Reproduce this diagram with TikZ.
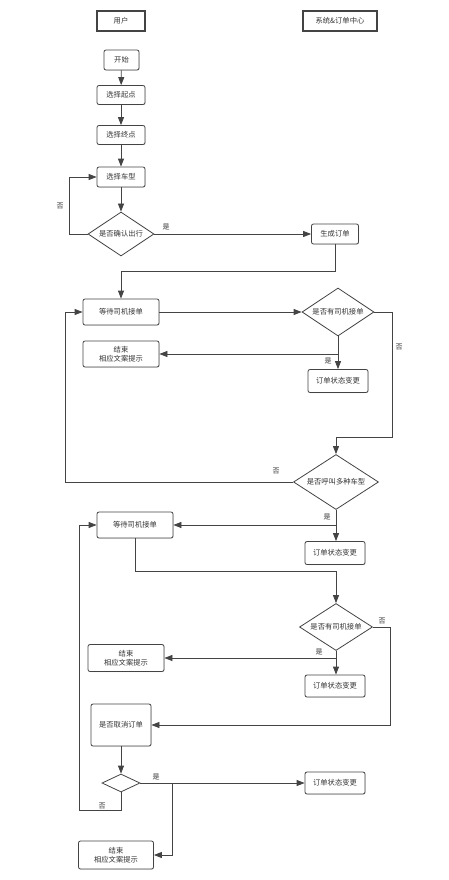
\documentclass[tikz,border=0pt]{standalone}
\usepackage{fontspec}
\newfontfamily\cjk{Noto Sans CJK SC}
\usetikzlibrary{arrows.meta,shapes.geometric,shadows}
\definecolor{ln}{HTML}{444444}
\definecolor{tx}{HTML}{333333}
\newcommand{\zb}[1]{\makebox[0pt]{#1}}
\begin{document}
\begin{tikzpicture}[x=1pt,y=-1pt,
  every node/.style={font=\cjk\fontsize{7.3}{9}\selectfont,text=tx,inner sep=0pt},
  lane/.style={draw=ln,line width=1.1pt,fill=white,minimum height=20pt,drop shadow={shadow xshift=0.6pt,shadow yshift=-0.6pt,opacity=0.25}},
  proc/.style={draw=ln,line width=0.8pt,rounded corners=2pt,fill=white,align=center,drop shadow={shadow xshift=0.6pt,shadow yshift=-0.6pt,opacity=0.25}},
  dec/.style={draw=ln,line width=0.8pt,diamond,fill=white},
  lbl/.style={font=\cjk\fontsize{7}{8}\selectfont},
  arr/.style={draw=ln,line width=0.8pt,-{Triangle[length=8pt,width=6pt]}},
  ln/.style={draw=ln,line width=0.8pt}]
\useasboundingbox (0,0) rectangle (448,880);
\fill[white] (0,0) rectangle (448,880);
% lanes
\node[lane,minimum width=48pt] (u) at (121,21) {用户};
\node[lane,minimum width=74pt] (s) at (340,21) {系统\&订单中心};
% nodes
\node[proc,minimum width=35pt,minimum height=20pt] (start) at (121.5,60) {开始};
\node[proc,minimum width=48pt,minimum height=19pt] (p1) at (121,95) {选择起点};
\node[proc,minimum width=48pt,minimum height=19pt] (p2) at (121,135) {选择终点};
\node[proc,minimum width=48pt,minimum height=20pt] (p3) at (121,177) {选择车型};
\node[dec,minimum width=66pt,minimum height=44pt] (d1) at (121,234) {\zb{是否确认出行}};
\node[proc,minimum width=47pt,minimum height=20pt] (order) at (335,234) {生成订单};
\node[proc,minimum width=76pt,minimum height=26pt] (w1) at (121,312) {等待司机接单};
\node[dec,minimum width=72pt,minimum height=48pt] (d2) at (338,312) {\zb{是否有司机接单}};
\node[proc,minimum width=76pt,minimum height=26pt] (e1) at (121,354) {结束\\相应文案提示};
\node[proc,minimum width=60pt,minimum height=23pt] (c1) at (338,381) {订单状态变更};
\node[dec,minimum width=85pt,minimum height=55pt] (d3) at (336,482) {\zb{是否呼叫多种车型}};
\node[proc,minimum width=76pt,minimum height=26pt] (w2) at (135,525) {等待司机接单};
\node[proc,minimum width=60pt,minimum height=23pt] (c2) at (335,553) {订单状态变更};
\node[dec,minimum width=73pt,minimum height=47pt] (d4) at (336,627) {\zb{是否有司机接单}};
\node[proc,minimum width=76pt,minimum height=27pt] (e2) at (126,658) {结束\\相应文案提示};
\node[proc,minimum width=60pt,minimum height=22pt] (c3) at (335,686) {订单状态变更};
\node[proc,minimum width=60pt,minimum height=42pt] (q) at (121,725) {是否取消订单};
\node[dec,minimum width=38pt,minimum height=18pt] (d5) at (121,783) {};
\node[proc,minimum width=60pt,minimum height=22pt] (c4) at (335,783) {订单状态变更};
\node[proc,minimum width=75pt,minimum height=28pt] (e3) at (116,855) {结束\\相应文案提示};
% helper coordinates
\coordinate (k1) at (392,437);
\coordinate (k2) at (65,482);
\coordinate (k3) at (390,725);
\coordinate (k4) at (172,783);
\coordinate (k5) at (79,810);
\coordinate (k6) at (69,234);
% connectors
\draw[arr] (start) -- (p1);
\draw[arr] (p1) -- (p2);
\draw[arr] (p2) -- (p3);
\draw[arr] (p3) -- (d1);
\draw[arr] (d1.west) -- (k6) |- (p3.west);
\draw[arr] (d1.east) -- (order.west);
\draw[arr] (order.south) -- ++(0,27) -| (w1.north);
\draw[arr] (w1.east) -- (d2.west);
\draw[arr] (d2.east) -| (k1) -| (d3.north);
\draw[arr] (d2.south) -- (c1.north);
\draw[arr] (d2.south |- e1.east) -- (e1.east);
\draw[arr] (d3.west) -- (k2) |- (w1.west);
\draw[arr] (d3.south) -- (d3.south |- c2.north);
\draw[arr] (d3.south |- w2.east) -- (w2.east);
\draw[arr] (w2.south) -- ++(0,33) -| (d4.north);
\draw[arr] (d4.east) -| (k3) -- (q.east);
\draw[arr] (d4.south) -- (d4.south |- c3.north);
\draw[arr] (d4.south |- e2.east) -- (e2.east);
\draw[arr] (q.south) -- (d5.north);
\draw[arr] (d5.east) -- (c4.west);
\draw[arr] (k4) |- (e3.east);
\draw[arr] (d5.south) |- (k5) |- (w2.west);
% labels
\node[lbl] (n1) at (60,206) {否};
\node[lbl] (y1) at (166,227) {是};
\node[lbl] (n2) at (399,347) {否};
\node[lbl] (y2) at (328,361) {是};
\node[lbl] (n3) at (276,471) {否};
\node[lbl] (y3) at (327,517) {是};
\node[lbl] (n4) at (382,621) {否};
\node[lbl] (y4) at (319,652) {是};
\node[lbl] (y5) at (156,777) {是};
\node[lbl] (n5) at (102,806) {否};
\end{tikzpicture}
\end{document}
